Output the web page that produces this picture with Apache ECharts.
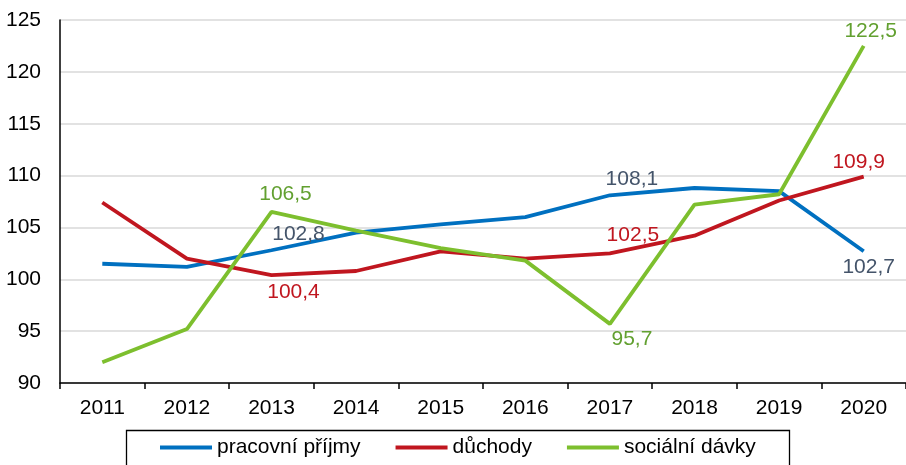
<!DOCTYPE html>
<html>
<head>
<meta charset="utf-8">
<script src="https://cdn.jsdelivr.net/npm/echarts@6/dist/echarts.min.js"></script>
<style>
  html, body { margin: 0; padding: 0; background: #fff; }
  #chart { width: 906px; height: 465px; }
</style>
</head>
<body>
<div id="chart"></div>
<script>
// data
const years = ["2011", "2012", "2013", "2014", "2015", "2016", "2017", "2018", "2019", "2020"];
const pracovniPrijmy = [101.5, 101.2, 102.8, 104.5, 105.3, 106.0, 108.1, 108.8, 108.5, 102.7];
const duchody = [107.4, 102.0, 100.4, 100.8, 102.7, 102.0, 102.5, 104.2, 107.6, 109.9];
const socialniDavky = [92.0, 95.2, 106.5, 104.7, 103.0, 101.8, 95.7, 107.2, 108.2, 122.5];

// which points carry a label: index -> [position, offset]
const labelsBlue = { 2: ["top", [27, 0]], 6: ["top", [22, -1]], 9: ["bottom", [5, 0]] };
const labelsRed = { 2: ["bottom", [22, 2]], 6: ["top", [23, -3]], 9: ["top", [-5, 1]] };
const labelsGreen = { 2: ["top", [14, -2]], 6: ["bottom", [22, 0]], 9: ["top", [7, 1]] };

const FONT = "Liberation Sans, Arial, sans-serif";
const FS = 21;

function fmt(v) {
  return v.toFixed(1).replace(".", ",");
}

function buildData(values, labels, color) {
  return values.map((v, i) => {
    let item = { value: v };
    if (labels[i]) {
      item.label = {
        show: true,
        position: labels[i][0],
        offset: labels[i][1],
        distance: 5,
        color: color,
        fontSize: FS,
        fontFamily: FONT,
        formatter: (p) => fmt(p.value),
      };
    }
    return item;
  });
}

function lineSeries(name, values, labels, lineColor, labelColor) {
  return {
    name: name,
    type: "line",
    data: buildData(values, labels, labelColor),
    symbol: "circle",
    symbolSize: 0.1,
    showSymbol: true,
    itemStyle: { color: lineColor },
    lineStyle: { color: lineColor, width: 3.8 },
    label: { show: false },
    z: 3,
  };
}

const chart = echarts.init(document.getElementById("chart"), null, { renderer: "canvas" });

chart.setOption({
  animation: false,
  backgroundColor: "#fff",
  grid: { left: 60, top: 20, width: 850, height: 363, containLabel: false },
  // legend frame runs off the bottom of the picture
  graphic: [
    {
      type: "rect",
      left: 124,
      top: 428,
      shape: { width: 663, height: 60 },
      style: { fill: "none", stroke: "#000", lineWidth: 1.3 },
      silent: true,
    },
  ],
  legend: {
    left: 160,
    top: 437,
    icon: "rect",
    itemWidth: 52,
    itemHeight: 4,
    itemGap: 35,
    padding: 0,
    textStyle: { fontSize: FS, fontFamily: FONT, color: "#000" },
    data: ["pracovní příjmy", "důchody", "sociální dávky"],
  },
  xAxis: {
    type: "category",
    data: years,
    boundaryGap: true,
    axisLine: { show: true, lineStyle: { color: "#000", width: 1.5 } },
    axisTick: { show: true, length: 6, lineStyle: { color: "#000", width: 1.5 } },
    axisLabel: { fontSize: FS, fontFamily: FONT, color: "#000", margin: 15 },
    splitLine: { show: false },
  },
  yAxis: {
    type: "value",
    min: 90,
    max: 125,
    interval: 5,
    axisLine: { show: true, lineStyle: { color: "#000", width: 1.5 } },
    axisTick: { show: false },
    axisLabel: { fontSize: FS, fontFamily: FONT, color: "#000", margin: 19 },
    splitLine: { show: true, lineStyle: { color: "#D9D9D9", width: 1.5 } },
  },
  series: [
    lineSeries("pracovní příjmy", pracovniPrijmy, labelsBlue, "#0070C0", "#44546A"),
    lineSeries("důchody", duchody, labelsRed, "#C0161F", "#C0161F"),
    lineSeries("sociální dávky", socialniDavky, labelsGreen, "#7DBF2E", "#62A030"),
  ],
});
</script>
</body>
</html>
